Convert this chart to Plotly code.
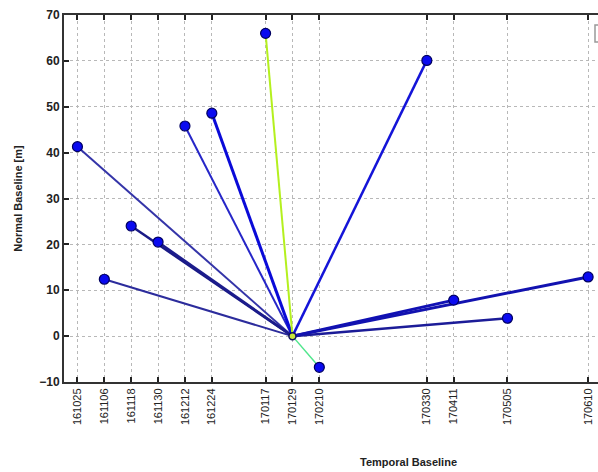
import plotly.graph_objects as go

# acquisition dates (yymmdd labels) and normal baselines [m]
date_labels = ["161025", "161106", "161118", "161130", "161212", "161224",
               "170117", "170129", "170210", "170330", "170411", "170505", "170610"]
dates = ["2016-10-25", "2016-11-06", "2016-11-18", "2016-11-30", "2016-12-12", "2016-12-24",
         "2017-01-17", "2017-01-29", "2017-02-10", "2017-03-30", "2017-04-11", "2017-05-05", "2017-06-10"]
baselines = [41.3, 12.4, 24.0, 20.5, 45.8, 48.6, 66.0, 0.0, -6.8, 60.1, 7.85, 3.9, 12.9]
master_index = 7
line_colors = ["#3434a8", "#2c2c9c", "#1a1a86", "#1c1c8c", "#2626c8", "#0a0ad8",
               "#b4f01e", None, "#50e68c", "#1414d8", "#1010b4", "#1c1c98", "#1212b0"]
line_widths = [2, 2, 2.5, 2.5, 2, 3, 2, 0, 1.5, 2.5, 3, 2.5, 3]

y_ticks = [70, 60, 50, 40, 30, 20, 10, 0, -10]

fig = go.Figure()

md, mb = dates[master_index], baselines[master_index]
for i, (d, b) in enumerate(zip(dates, baselines)):
    if i == master_index:
        continue
    fig.add_trace(go.Scatter(x=[md, d], y=[mb, b], mode="lines",
                             line=dict(color=line_colors[i], width=line_widths[i]),
                             showlegend=False, hoverinfo="skip", cliponaxis=False))

slave_d = [d for i, d in enumerate(dates) if i != master_index]
slave_b = [b for i, b in enumerate(baselines) if i != master_index]
fig.add_trace(go.Scatter(x=slave_d, y=slave_b, mode="markers",
                         marker=dict(size=10, color="#0a0af0",
                                     line=dict(color="#000060", width=1.2)),
                         showlegend=False, cliponaxis=False))
fig.add_trace(go.Scatter(x=[md], y=[mb], mode="markers",
                         marker=dict(size=7, color="#c8e63c",
                                     line=dict(color="#101060", width=1.5)),
                         showlegend=False))

axis_font = dict(family="Liberation Sans, Arial, sans-serif", size=11, color="#222")

fig.update_xaxes(
    type="date",
    range=["2016-10-19", "2017-06-14 10:00"],
    tickmode="array", tickvals=dates, ticktext=date_labels,
    tickangle=-90, tickfont=axis_font,
    ticks="inside", ticklen=5, tickwidth=2, tickcolor="#222",
    showline=True, linecolor="#333", linewidth=2, mirror="allticks",
    showgrid=True, gridcolor="#b8b8b8", griddash="dot", gridwidth=1,
    zeroline=False, automargin=False,
)
fig.update_yaxes(
    range=[-10, 70],
    tickmode="array", tickvals=y_ticks,
    tickfont=dict(family="Liberation Sans, Arial, sans-serif", size=12, color="#222",
                  weight="bold"),
    ticks="inside", ticklen=5, tickwidth=2, tickcolor="#222",
    showline=True, linecolor="#333", linewidth=2, mirror=False,
    showgrid=True, gridcolor="#b8b8b8", griddash="dot", gridwidth=1,
    zeroline=False, automargin=False,
    title=dict(text="<b>Normal Baseline [m]</b>", standoff=14,
               font=dict(family="Liberation Sans, Arial, sans-serif", size=11, color="#222")),
)

fig.add_annotation(text="<b>Temporal Baseline</b>", xref="paper", yref="paper",
                   x=(408 - 64) / 534, y=(382 - 462) / 367, xanchor="center", yanchor="middle",
                   showarrow=False,
                   font=dict(family="Liberation Sans, Arial, sans-serif", size=11, color="#222"))

# clipped legend box at the top right
fig.add_shape(type="rect", xref="paper", yref="paper",
              x0=(595 - 64) / 534, x1=(610 - 64) / 534,
              y0=(382 - 42) / 367, y1=(382 - 25) / 367,
              line=dict(color="#999", width=1.5), fillcolor="white")

fig.update_layout(
    width=598, height=472,
    margin=dict(l=64, r=0, t=15, b=90, autoexpand=False),
    plot_bgcolor="white", paper_bgcolor="white",
    font=axis_font,
)

fig.write_html(
    "out.html",
    config={"displayModeBar": False},
    post_script="document.body.style.margin='0px';"
                "document.documentElement.style.overflow='hidden';",
)
